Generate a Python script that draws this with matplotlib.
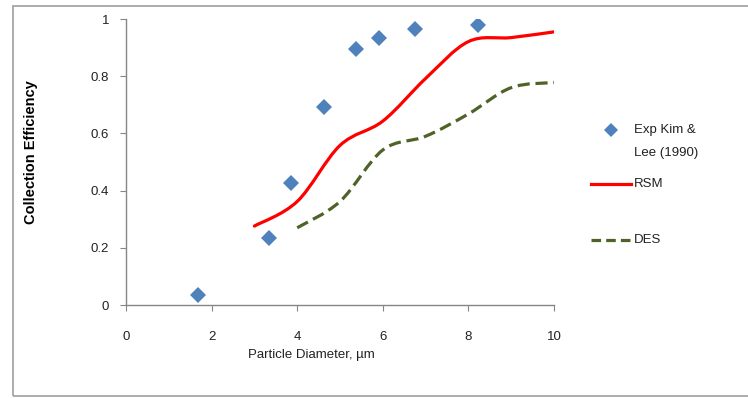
"""
Collection efficiency vs particle diameter: experiment vs RSM and DES
"""

import matplotlib

matplotlib.use("Agg")
import matplotlib.pyplot as plt
import numpy as np
from matplotlib.lines import Line2D
from matplotlib.patches import PathPatch, Rectangle
from matplotlib.path import Path

plt.rcParams["font.family"] = ["Liberation Sans", "DejaVu Sans"]

# Experimental points (Kim & Lee, 1990)
exp_d = [1.69, 3.33, 3.86, 4.62, 5.37, 5.92, 6.76, 8.22]
exp_eff = [0.035, 0.235, 0.428, 0.693, 0.894, 0.935, 0.966, 0.980]

# Model curves
rsm_d = [3, 4, 5, 6, 7, 8, 9, 10]
rsm_eff = [0.276, 0.362, 0.558, 0.643, 0.792, 0.921, 0.935, 0.955]

des_d = [4, 5, 6, 7, 8, 9, 10]
des_eff = [0.270, 0.362, 0.542, 0.590, 0.668, 0.760, 0.778]

x_ticks = [0, 2, 4, 6, 8, 10]
y_ticks = [0, 0.2, 0.4, 0.6, 0.8, 1]

W, H = 748, 398
AXIS_GREY = "#868686"
TEXT = "#222222"


def smooth_path(xs, ys):
    # cubic Bezier segments through the points, like a spreadsheet "smoothed line"
    pts = np.column_stack([xs, ys]).astype(float)
    n = len(pts)
    verts = [pts[0]]
    codes = [Path.MOVETO]
    for i in range(n - 1):
        p0 = pts[i - 1] if i > 0 else pts[i]
        p1 = pts[i]
        p2 = pts[i + 1]
        p3 = pts[i + 2] if i + 2 < n else pts[i + 1]
        c1 = p1 + (p2 - p0) / 6.0
        c2 = p2 - (p3 - p1) / 6.0
        verts += [c1, c2, p2]
        codes += [Path.CURVE4] * 3
    return Path(verts, codes)


def fx(px):
    return px / W


def fy(py):
    return 1 - py / H


fig = plt.figure(figsize=(W / 100, H / 100), dpi=100)
fig.patch.set_facecolor("white")

# chart border
fig.add_artist(
    Rectangle(
        (fx(13), fy(396)),
        fx(800) - fx(13),
        fy(6) - fy(396),
        transform=fig.transFigure,
        fill=False,
        edgecolor="#a6a6a6",
        linewidth=1.3,
    )
)

ax = fig.add_axes([fx(126), fy(305), fx(554) - fx(126), fy(19) - fy(305)])

ax.add_patch(
    PathPatch(
        smooth_path(rsm_d, rsm_eff),
        fill=False,
        edgecolor="#ff0000",
        linewidth=2.3,
        capstyle="round",
    )
)
ax.add_patch(
    PathPatch(
        smooth_path(des_d, des_eff),
        fill=False,
        edgecolor="#4f6228",
        linewidth=2.3,
        linestyle=(0, (3.8, 1.8)),
    )
)
ax.plot(exp_d, exp_eff, linestyle="none", marker="D", markersize=8,
        color="#4f81bd", markeredgewidth=0)

ax.set_xlim(0, 10)
ax.set_ylim(0, 1)
ax.set_xticks(x_ticks)
ax.set_xticklabels([str(t) for t in x_ticks])
ax.set_yticks(y_ticks)
ax.set_yticklabels(["0", "0.2", "0.4", "0.6", "0.8", "1"])

for side in ["top", "right"]:
    ax.spines[side].set_visible(False)
for side in ["left", "bottom"]:
    ax.spines[side].set_color(AXIS_GREY)
    ax.spines[side].set_linewidth(1.0)

ax.tick_params(axis="x", direction="out", length=4, color=AXIS_GREY,
               labelsize=9.5, labelcolor=TEXT, pad=15)
ax.tick_params(axis="y", direction="out", length=4, color=AXIS_GREY,
               labelsize=9.5, labelcolor=TEXT, pad=8)

fig.text(fx(311), fy(355), "Particle Diameter, \u00b5m", ha="center", va="center",
         fontsize=9.5, color=TEXT)
fig.text(fx(31), fy(152), "Collection Efficiency", ha="center", va="center",
         rotation=90, fontsize=10.5, fontweight="bold", color="black")

# legend
fig.add_artist(Line2D([fx(611)], [fy(130)], transform=fig.transFigure,
                      linestyle="none", marker="D", markersize=7,
                      color="#4f81bd", markeredgewidth=0))
fig.text(fx(634), fy(130), "Exp Kim &", ha="left", va="center", fontsize=9.5, color=TEXT)
fig.text(fx(634), fy(153), "Lee (1990)", ha="left", va="center", fontsize=9.5, color=TEXT)
fig.add_artist(Line2D([fx(591), fx(631)], [fy(184), fy(184)], transform=fig.transFigure,
                      color="#ff0000", linewidth=2.3))
fig.text(fx(634), fy(184), "RSM", ha="left", va="center", fontsize=9.5, color=TEXT)
fig.add_artist(Line2D([fx(591), fx(631)], [fy(240), fy(240)], transform=fig.transFigure,
                      color="#4f6228", linewidth=2.3, linestyle=(0, (3.0, 1.6))))
fig.text(fx(634), fy(240), "DES", ha="left", va="center", fontsize=9.5, color=TEXT)

fig.savefig("out.png", dpi=100)
plt.close(fig)
